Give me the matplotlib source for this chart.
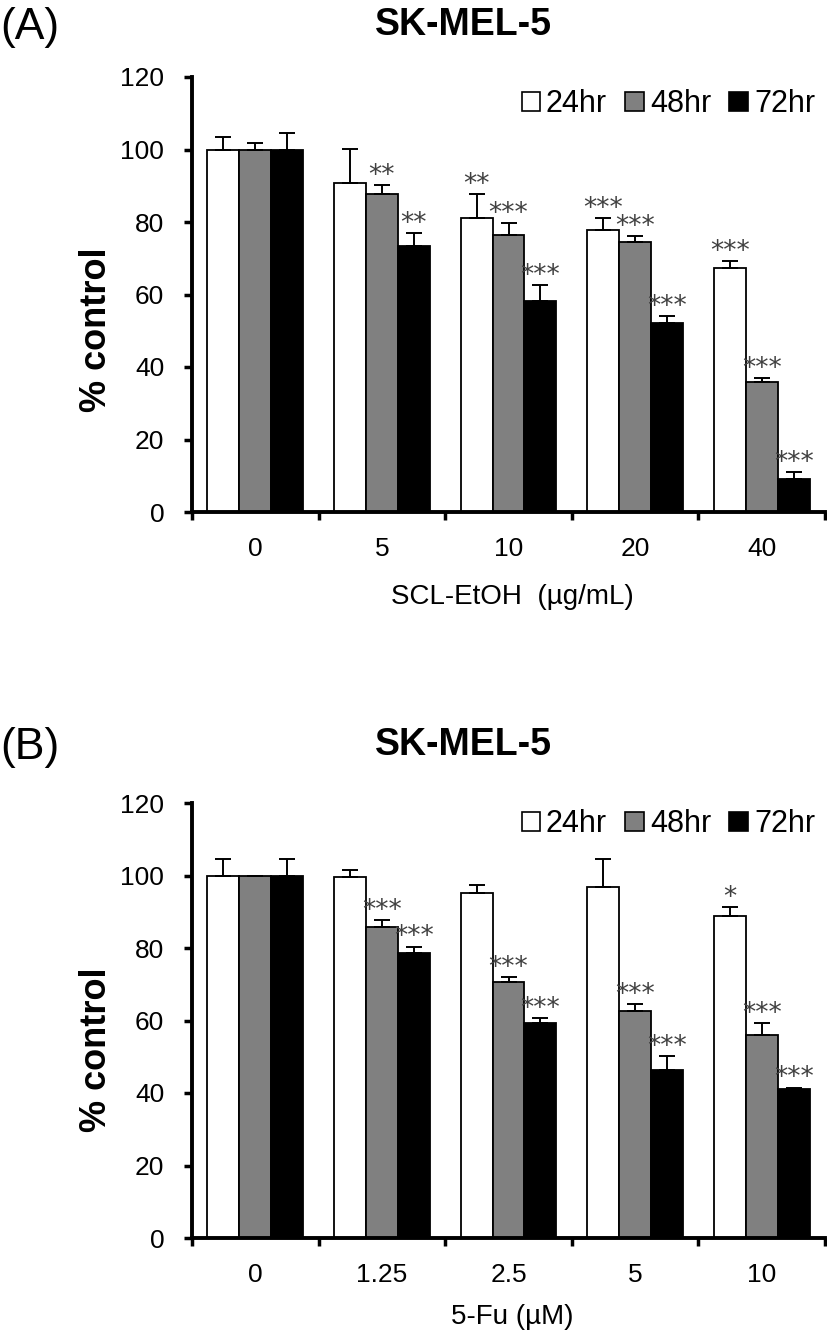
import numpy as np
import matplotlib
matplotlib.use("Agg")
import matplotlib.pyplot as plt
from matplotlib.patches import Patch

plt.rcParams['font.family'] = ['Liberation Sans', 'DejaVu Sans']

# ---- data ----
seriesNames = ["24hr", "48hr", "72hr"]
seriesColors = ["white", "#808080", "black"]

doseA = ["0", "5", "10", "20", "40"]
whiteA = [100, 90.8, 81.0, 77.8, 67.2]
grayA = [100, 87.6, 76.4, 74.4, 35.8]
blackA = [100, 73.4, 58.2, 52.2, 9.0]
whiteErrA = [3.4, 9.3, 6.6, 3.2, 2.0]
grayErrA = [1.9, 2.6, 3.2, 1.8, 1.2]
blackErrA = [4.6, 3.5, 4.5, 1.9, 2.0]
whiteStarA = ["", "", "**", "***", "***"]
grayStarA = ["", "**", "***", "***", "***"]
blackStarA = ["", "**", "***", "***", "***"]

doseB = ["0", "1.25", "2.5", "5", "10"]
whiteB = [100, 99.5, 95.3, 96.8, 88.9]
grayB = [100, 85.7, 70.6, 62.7, 56.0]
blackB = [100, 78.6, 59.4, 46.3, 41.0]
whiteErrB = [4.6, 1.9, 2.1, 7.8, 2.5]
grayErrB = [0, 2.1, 1.3, 1.9, 3.2]
blackErrB = [4.6, 1.8, 1.2, 3.9, 0.5]
whiteStarB = ["", "", "", "", "*"]
grayStarB = ["", "***", "***", "***", "***"]
blackStarB = ["", "***", "***", "***", "***"]

W, H = 827, 1342
fig = plt.figure(figsize=(W / 100, H / 100), dpi=100)


def fx(px):
    return px / W


def fy(py):
    return 1 - py / H


def drawPanel(ax, doses, vals, errs, stars, xlabel, letter, top):
    x = np.arange(len(doses))
    bw = 0.252
    for i in range(3):
        xi = x + (i - 1) * bw
        ax.bar(xi, vals[i], bw, color=seriesColors[i], edgecolor="black",
               linewidth=1.3, zorder=2)
        ax.errorbar(xi, vals[i], yerr=[np.zeros(len(x)), errs[i]], fmt="none",
                    ecolor="black", elinewidth=1.4, capsize=5.5, capthick=1.4, zorder=3)
        for j in range(len(x)):
            if stars[i][j]:
                ax.annotate(stars[i][j], (xi[j], vals[i][j] + errs[i][j]),
                            xytext=(0, 1.5), textcoords="offset points",
                            ha="center", va="baseline", fontsize=19,
                            color="#404040", family="DejaVu Sans")

    ax.set_xlim(-0.5, len(x) - 0.5)
    ax.set_ylim(0, 120)
    ax.set_yticks(range(0, 121, 20))
    ax.set_xticks(x)
    ax.set_xticklabels(doses)
    ax.set_xticks(np.arange(-0.5, len(x), 1), minor=True)
    ax.tick_params(axis="x", which="major", length=0, pad=18, labelsize=19)
    ax.tick_params(axis="x", which="minor", length=6, width=2.5, direction="out")
    ax.tick_params(axis="y", length=6, width=2.5, direction="out", pad=14, labelsize=19)
    for s in ["top", "right"]:
        ax.spines[s].set_visible(False)
    for s in ["left", "bottom"]:
        ax.spines[s].set_linewidth(2.8)

    # panel letter, title, legend, axis labels
    fig.text(fx(0), fy(top + 27), letter, fontsize=32, va="center", ha="left")
    fig.text(fx(463), fy(top + 25), "SK-MEL-5", fontsize=27, fontweight="bold",
             va="center", ha="center")
    fig.text(fx(97), fy(top + 330), "% control", fontsize=26, fontweight="bold",
             rotation=90, va="center", ha="center")
    fig.text(fx(512), fy(top + 597), xlabel, fontsize=20, va="center", ha="center")
    handles = [Patch(facecolor=c, edgecolor="black", linewidth=1.2) for c in seriesColors]
    fig.legend(handles, seriesNames, loc="center right",
               bbox_to_anchor=(fx(815), fy(top + 104)), ncol=3, frameon=False,
               fontsize=22, handlelength=0.6, handleheight=0.6,
               handletextpad=0.2, columnspacing=0.6, borderaxespad=0,
               borderpad=0)


axA = fig.add_axes([fx(192), fy(512), fx(825 - 192), (512 - 77) / H])
drawPanel(axA, doseA, [whiteA, grayA, blackA], [whiteErrA, grayErrA, blackErrA],
          [whiteStarA, grayStarA, blackStarA], "SCL-EtOH  (\u00b5g/mL)", "(A)", 0)

axB = fig.add_axes([fx(192), fy(1238), fx(825 - 192), (1238 - 803) / H])
drawPanel(axB, doseB, [whiteB, grayB, blackB], [whiteErrB, grayErrB, blackErrB],
          [whiteStarB, grayStarB, blackStarB], "5-Fu (\u00b5M)", "(B)", 720)

fig.savefig("out.png", dpi=100)
